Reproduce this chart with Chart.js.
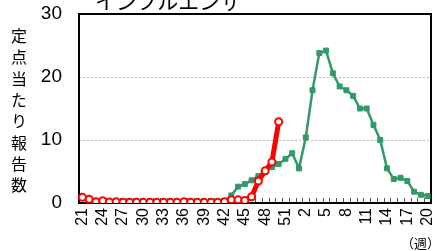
<!DOCTYPE html>
<html>
<head>
<meta charset="utf-8">
<script src="https://cdn.jsdelivr.net/npm/chart.js@4"></script>
<style>
  body { margin: 0; background: #fff; }
  #wrap { position: relative; width: 437px; height: 251px; overflow: hidden; background: #fff; }
  #c { position: absolute; left: 0; top: 0; }
  .jp { position: absolute; font-family: "Noto Sans CJK JP", sans-serif; color: #000; line-height: 1; white-space: nowrap; }
  #title { left: 95px; top: -10px; font-size: 21px; }
  #ytitle { left: 11px; top: 28px; font-size: 16px; writing-mode: vertical-rl; letter-spacing: 5.3px; }
  #unit { left: 401px; top: 236px; font-size: 13px; }
</style>
</head>
<body>
<div id="wrap">
  <canvas id="c" width="437" height="251"></canvas>
  <div id="title" class="jp">インフルエンザ</div>
  <div id="ytitle" class="jp">定点当たり報告数</div>
  <div id="unit" class="jp">（週）</div>
</div>
<script>
// week numbers (season runs from week 21 to week 20 of the next year)
const weeks = [21, 22, 23, 24, 25, 26, 27, 28, 29, 30, 31, 32, 33, 34, 35, 36,
  37, 38, 39, 40, 41, 42, 43, 44, 45, 46, 47, 48, 49, 50, 51, 52,
  1, 2, 3, 4, 5, 6, 7, 8, 9, 10, 11, 12, 13, 14, 15, 16, 17, 18, 19, 20];

// this season (red)
const thisSeason = [0.9, 0.6, 0.2, 0.35, 0.15, 0.2, 0.1, 0.1, 0.1, 0.1, 0.1, 0.1, 0.1, 0.1, 0.1, 0.2,
  0.1, 0.1, 0.1, 0.1, 0.1, 0.2, 0.5, 0.5, 0.4, 1.0, 3.5, 5.1, 6.5, 12.9, null, null,
  null, null, null, null, null, null, null, null, null, null, null, null, null, null, null, null, null, null, null, null];

// last season (green)
const lastSeason = [null, null, null, null, null, null, null, null, null, null, null, null, null, null, null, null,
  null, null, null, null, null, 0.3, 1.2, 2.6, 3.0, 3.6, 4.3, 5.0, 5.7, 6.2, 7.0, 7.9,
  5.5, 10.4, 17.9, 23.8, 24.2, 20.6, 18.5, 17.9, 17.0, 15.0, 15.0, 12.4, 10.0, 5.5, 3.8, 4.0, 3.5, 1.8, 1.3, 1.1];

const yTicks = [0, 10, 20, 30];

// box around the plot + small inward ticks on the x axis
const framePlugin = {
    id: 'frame',
    beforeDatasetsDraw(chart) {
        const ctx = chart.ctx;
        const a = chart.chartArea;
        const x = chart.scales.x;
        ctx.save();
        ctx.strokeStyle = '#555';
        ctx.lineWidth = 1;
        ctx.beginPath();
        for (let i = 0; i < weeks.length - 1; i++) {
            const px = Math.round((x.getPixelForValue(i) + x.getPixelForValue(i + 1)) / 2) + 0.5;
            ctx.moveTo(px, a.bottom);
            ctx.lineTo(px, a.bottom - 5);
        }
        ctx.stroke();
        ctx.strokeStyle = '#000';
        ctx.lineWidth = 2;
        ctx.strokeRect(a.left, a.top, a.right - a.left, a.bottom - a.top);
        ctx.restore();
    }
};

const chart = new Chart(document.getElementById('c').getContext('2d'), {
    type: 'line',
    data: {
        labels: weeks,
        datasets: [
            {
                label: '今シーズン',
                data: thisSeason,
                borderColor: '#ff0000',
                borderWidth: 5,
                pointRadius: 3.5,
                pointBorderWidth: 2,
                pointBackgroundColor: '#ffffff',
                pointBorderColor: '#ff0000',
                spanGaps: false,
            },
            {
                label: '前シーズン',
                data: lastSeason,
                borderColor: '#33996a',
                borderWidth: 2.5,
                pointStyle: 'rect',
                pointRadius: 3.5,
                pointBorderWidth: 1,
                pointBackgroundColor: '#33996a',
                pointBorderColor: '#33996a',
            }
        ]
    },
    options: {
        responsive: false,
        animation: false,
        layout: { padding: { top: 14, right: 5, left: 0, bottom: 0 } },
        plugins: {
            legend: { display: false },
            tooltip: { enabled: false }
        },
        scales: {
            x: {
                offset: true,
                grid: { display: false, drawTicks: false },
                border: { display: false },
                ticks: {
                    autoSkip: false,
                    minRotation: 90,
                    maxRotation: 90,
                    padding: 5,
                    color: '#000',
                    font: { family: '"Liberation Sans", Arial, sans-serif', size: 16 },
                    callback: function (value, index) {
                        return index % 3 === 0 ? String(weeks[index]) : '';
                    }
                },
                afterFit: s => {
                    s.height = 48;
                    s.paddingLeft = 0;
                    s.paddingRight = 0;
                }
            },
            y: {
                min: yTicks[0],
                max: yTicks[yTicks.length - 1],
                afterBuildTicks: s => { s.ticks = yTicks.map(v => ({ value: v })); },
                grid: {
                    drawTicks: false,
                    lineWidth: 1,
                    color: c => (c.tick && (c.tick.value === 10 || c.tick.value === 20)) ? '#bbbbbb' : 'rgba(0,0,0,0)'
                },
                border: { display: false, dash: [2, 2] },
                ticks: {
                    padding: 17,
                    color: '#000',
                    font: { family: '"Liberation Sans", Arial, sans-serif', size: 19 }
                },
                afterFit: s => {
                    s.width = 79;
                    s.paddingTop = 0;
                    s.paddingBottom = 0;
                }
            }
        }
    },
    plugins: [framePlugin]
});
</script>
</body>
</html>
